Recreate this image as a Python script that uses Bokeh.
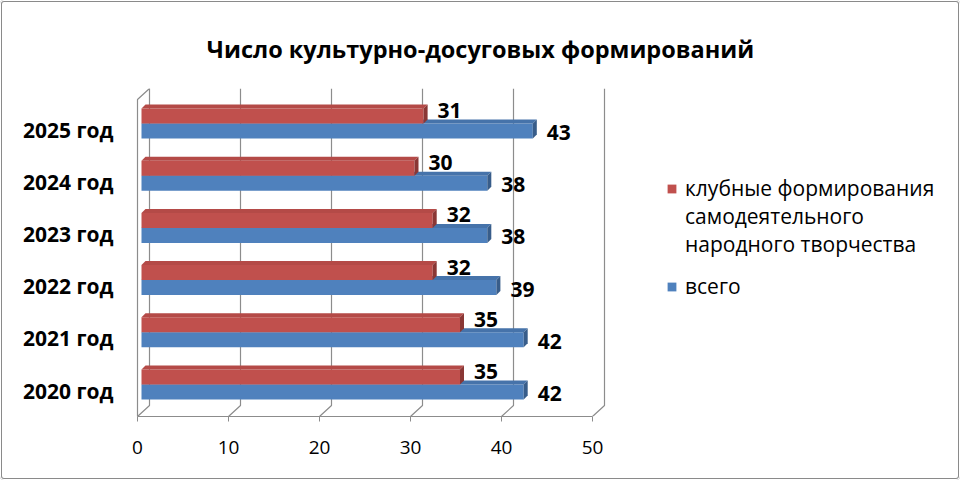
from bokeh.plotting import figure
from bokeh.models import Range1d, FixedTicker, Legend, LegendItem, ColumnDataSource
from bokeh.core.properties import value
from bokeh.embed import file_html
from bokeh.resources import INLINE

# ---------------- data ----------------
TITLE = "Число культурно-досуговых формирований"
categories = ["2020 год", "2021 год", "2022 год", "2023 год", "2024 год", "2025 год"]
club_values = [35, 35, 32, 32, 30, 31]
total_values = [42, 42, 39, 38, 38, 43]
club_name_lines = ["клубные формирования", "самодеятельного", "народного творчества"]
total_name = "всего"
x_ticks = [0, 10, 20, 30, 40, 50]

# ---------------- layout constants ----------------
W, H = 960, 480
BORDER_TOP, BORDER_BOTTOM = 88, 64
PX_X = 50 / 455.0          # data units per horizontal pixel
PX_Y = 1 / 52.2            # data units per vertical pixel
X0_PX = 137                # pixels from frame left to x = 0
BASE_PX = 296              # pixels from frame top to first category centre
FRAME_H = H - BORDER_TOP - BORDER_BOTTOM

x_start = -X0_PX * PX_X
x_end = x_start + W * PX_X
y_end = BASE_PX * PX_Y
y_start = y_end - FRAME_H * PX_Y

FONT = "Open Sans"
RED, RED_TOP, RED_END = "#C0504D", "#B44A47", "#8A3735"
BLUE, BLUE_TOP, BLUE_END = "#4F81BD", "#4673AA", "#385D8A"
GRID = "#8C8C8C"

p = figure(width=W, height=H, output_backend="svg", toolbar_location=None,
           x_range=Range1d(x_start, x_end), y_range=Range1d(y_start, y_end),
           y_axis_location=None, min_border_left=0, min_border_right=0,
           min_border_top=BORDER_TOP, min_border_bottom=BORDER_BOTTOM)
p.outline_line_color = None
p.xgrid.visible = False
p.ygrid.visible = False
# transparent canvas so that the chart-area border (drawn by CSS) shows through
p.background_fill_alpha = 0
p.border_fill_alpha = 0
p.styles = {"background-color": "white",
            "box-shadow": "inset 0 0 0 1px white, inset 0 0 0 2px #8a8a8a",
            "border-radius": "4px"}

# title
p.title.text = TITLE
p.title.align = "center"
p.title.text_font = FONT
p.title.text_font_size = "23.5px"
p.title.text_font_style = "bold"
p.title.text_color = "black"
p.title.standoff = 48

# x axis
ax = p.xaxis[0]
ax.ticker = FixedTicker(ticks=x_ticks)
ax.bounds = (x_ticks[0], x_ticks[-1])
ax.axis_line_color = GRID
ax.major_tick_line_color = GRID
ax.major_tick_in = 0
ax.major_tick_out = 5
ax.minor_tick_line_color = None
ax.major_label_text_font = FONT
ax.major_label_text_font_size = "19px"
ax.major_label_text_color = "black"
ax.major_label_standoff = 19

# ---------------- 3D walls ----------------
DXW, DYW = 12 * PX_X, 11 * PX_Y
wall_xs, wall_ys = [], []
for t in x_ticks:
    wall_xs.append([t, t + DXW, t + DXW])
    wall_ys.append([y_start, y_start + DYW, y_end])
wall_xs.append([x_ticks[0], x_ticks[0], x_ticks[0] + DXW])
wall_ys.append([y_start, y_end - DYW, y_end])
p.multi_line(xs=wall_xs, ys=wall_ys, line_color=GRID, line_width=1.2)

# ---------------- 3D bars ----------------
SHIFT = 4 * PX_X
BAR_H = 15 * PX_Y
DX, DY = 4 * PX_X, 4 * PX_Y
ypos = list(range(len(categories)))


def bar_sources(vals, lo_off, hi_off):
    left = [SHIFT] * len(vals)
    right = [v + SHIFT for v in vals]
    bottom = [y + lo_off for y in ypos]
    top = [y + hi_off for y in ypos]
    front = ColumnDataSource(dict(left=left, right=right, bottom=bottom, top=top))
    top_face = ColumnDataSource(dict(
        xs=[[l, r, r + DX, l + DX] for l, r in zip(left, right)],
        ys=[[t, t, t + DY, t + DY] for t in top]))
    end_face = ColumnDataSource(dict(
        xs=[[r, r + DX, r + DX, r] for r in right],
        ys=[[b, b + DY, t + DY, t] for b, t in zip(bottom, top)]))
    return front, top_face, end_face


# blue ("всего") below the category centre, drawn first
bf, bt, be = bar_sources(total_values, -BAR_H, 0)
blue_r = p.quad(left="left", right="right", bottom="bottom", top="top", source=bf,
                fill_color=BLUE, line_color=None)
p.patches(xs="xs", ys="ys", source=bt, fill_color=BLUE_TOP, line_color=None)
p.patches(xs="xs", ys="ys", source=be, fill_color=BLUE_END, line_color=None)

rf, rt, re_ = bar_sources(club_values, 0, BAR_H)
red_r = p.quad(left="left", right="right", bottom="bottom", top="top", source=rf,
               fill_color=RED, line_color=None)
p.patches(xs="xs", ys="ys", source=rt, fill_color=RED_TOP, line_color=None)
p.patches(xs="xs", ys="ys", source=re_, fill_color=RED_END, line_color=None)

# invisible renderer used for the continuation lines of the legend label
blank_r = p.quad(left=[], right=[], bottom=[], top=[], fill_alpha=0, line_alpha=0)

# data labels
p.text(x=club_values, y=ypos, text=[str(v) for v in club_values],
       x_offset=18, y_offset=-13, text_align="left", text_baseline="middle",
       text_font=value(FONT), text_font_style="bold", text_font_size="21px", text_color="black")
p.text(x=total_values, y=ypos, text=[str(v) for v in total_values],
       x_offset=18, y_offset=9, text_align="left", text_baseline="middle",
       text_font=value(FONT), text_font_style="bold", text_font_size="21px", text_color="black")

# category labels
p.text(x=[0] * len(categories), y=ypos, text=categories,
       x_offset=-24, y_offset=6, text_align="right", text_baseline="middle",
       text_font=value(FONT), text_font_style="bold", text_font_size="21px", text_color="black")


# legends
def style_legend(lg):
    lg.glyph_width = 11
    lg.glyph_height = 11
    lg.label_standoff = 8
    lg.padding = 0
    lg.margin = 0
    lg.spacing = 0
    lg.border_line_color = None
    lg.background_fill_alpha = 0
    lg.label_text_font = FONT
    lg.label_text_font_size = "21px"
    lg.label_text_color = "black"


legend1 = Legend(items=[LegendItem(label=club_name_lines[0], renderers=[red_r])] +
                 [LegendItem(label=t, renderers=[blank_r]) for t in club_name_lines[1:]],
                 location=(666, 158))
style_legend(legend1)
p.add_layout(legend1)

legend2 = Legend(items=[LegendItem(label=total_name, renderers=[blue_r])],
                 location=(666, 116))
style_legend(legend2)
p.add_layout(legend2)

open("out.html", "w").write(file_html(p, INLINE))
